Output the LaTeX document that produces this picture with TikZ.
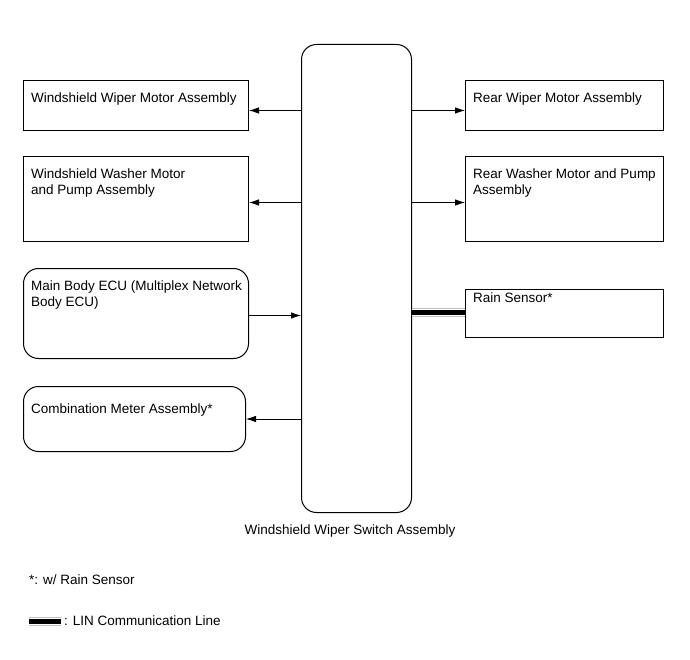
\documentclass[tikz,border=0pt]{standalone}
\usepackage{fontspec}
\setmainfont{Liberation Sans}
\usetikzlibrary{arrows.meta, positioning, calc}

\begin{document}
\begin{tikzpicture}[
        x=1pt, y=-1pt,
        font=\fontsize{13.5}{16}\selectfont,
        % Boxes around the switch
        part/.style={
            rectangle,
            draw=black,
            line width=1pt,
            anchor=north west,
            inner sep=0pt
        },
        ecu/.style={part, rounded corners=15pt},
        txt/.style={
            anchor=north west,
            inner sep=0pt,
            align=left,
            xshift=8pt,
            yshift=-13pt
        },
        arrow/.style={
            -{Latex[length=10pt, width=6.5pt]},
            line width=0.8pt
        },
        % LIN line: black core between two grey rims
        lin/.style={
            draw=gray!50,
            line width=9pt,
            postaction={draw=white, line width=7pt},
            postaction={draw=black, line width=5pt}
        }
    ]
    \useasboundingbox (0,0) rectangle (690,660);

    % The switch in the middle
    \node (switch) [ecu, minimum width=110pt, minimum height=468pt] at (301,44) {};
    \node (switchname) at (350,531) {Windshield Wiper Switch Assembly};

    % Left column
    \node (frontmotor) [part, minimum width=225pt, minimum height=50pt,
        label={[txt]north west:Windshield Wiper Motor Assembly}] at (23,80) {};
    \node (frontwasher) [part, minimum width=225pt, minimum height=85pt,
        label={[txt]north west:Windshield Washer Motor\\and Pump Assembly}] at (23,156) {};
    \node (mainecu) [ecu, minimum width=225pt, minimum height=90pt,
        label={[txt]north west:Main Body ECU (Multiplex Network\\Body ECU)}] at (23,268) {};
    \node (meter) [ecu, minimum width=222pt, minimum height=65pt,
        label={[txt, yshift=-5pt]north west:Combination Meter Assembly*}] at (23,386) {};

    % Right column
    \node (rearmotor) [part, minimum width=198pt, minimum height=50pt,
        label={[txt]north west:Rear Wiper Motor Assembly}] at (465,80) {};
    \node (rearwasher) [part, minimum width=198pt, minimum height=85pt,
        label={[txt]north west:Rear Washer Motor and Pump\\Assembly}] at (465,156) {};
    \node (rainsensor) [part, minimum width=198pt, minimum height=48pt,
        label={[txt, yshift=9pt]north west:Rain Sensor*}] at (465,289) {};

    % Connections
    \draw [arrow] ($(frontmotor.east -| switch.west)+(0,5)$) -- ($(frontmotor.east)+(0,5)$);
    \draw [arrow] ($(frontwasher.east -| switch.west)+(0,3.5)$) -- ($(frontwasher.east)+(0,3.5)$);
    \draw [arrow] ($(mainecu.east)+(0,2)$) -- ($(mainecu.east -| switch.west)+(0,2)$);
    \draw [arrow] (meter.east -| switch.west) -- (meter.east);
    \draw [arrow] ($(rearmotor.west -| switch.east)+(0,5)$) -- ($(rearmotor.west)+(0,5)$);
    \draw [arrow] ($(rearwasher.west -| switch.east)+(0,3.5)$) -- ($(rearwasher.west)+(0,3.5)$);
    \draw [lin] ($(rainsensor.west -| switch.east)+(0,-1)$) -- ($(rainsensor.west)+(0,-1)$);

    % Notes
    \node (note) [anchor=west, inner sep=0pt] at (29,580) {*: w/ Rain Sensor};
    \coordinate (linstart) at (29,621);
    \coordinate (linend) at (61,621);
    \draw [lin] (linstart) -- (linend);
    \node (linname) [anchor=west, inner sep=0pt] at (64,621) {: LIN Communication Line};

\end{tikzpicture}
\end{document}
